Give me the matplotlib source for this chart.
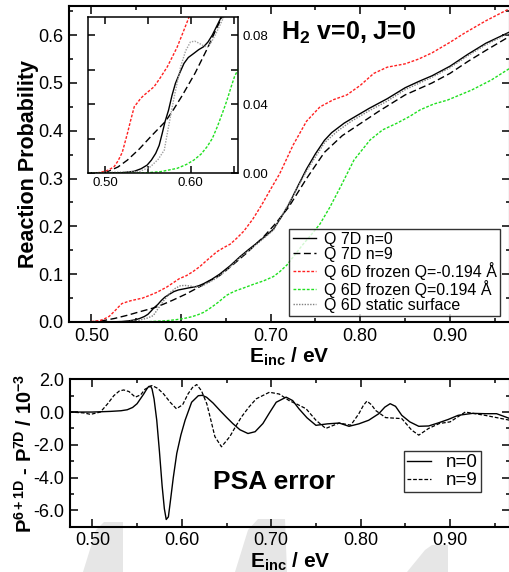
import numpy as np
import matplotlib
matplotlib.use('Agg')
import matplotlib.pyplot as plt
from matplotlib.ticker import MultipleLocator, FormatStrFormatter
from matplotlib.patches import Polygon

plt.rcParams['font.family'] = ['Liberation Sans', 'DejaVu Sans']
plt.rcParams['mathtext.fontset'] = 'custom'
plt.rcParams['mathtext.rm'] = 'Liberation Sans:bold'
plt.rcParams['mathtext.bf'] = 'Liberation Sans:bold'
plt.rcParams['mathtext.it'] = 'Liberation Sans:bold'
plt.rcParams['mathtext.sf'] = 'Liberation Sans:bold'
plt.rcParams['mathtext.default'] = 'bf'
plt.rcParams['axes.unicode_minus'] = False

# ---------------- data: reaction probability ----------------
E_n0 = [0.475, 0.50, 0.52, 0.534, 0.542, 0.549, 0.554, 0.559, 0.563, 0.5666, 0.570,
        0.574, 0.578, 0.582, 0.587, 0.592, 0.597, 0.6035, 0.609, 0.615, 0.620, 0.625,
        0.629, 0.634, 0.643, 0.655, 0.666, 0.675, 0.6845, 0.693, 0.703, 0.712, 0.72,
        0.73, 0.74, 0.75, 0.76, 0.768, 0.775, 0.782, 0.79, 0.80, 0.81, 0.83, 0.85,
        0.865, 0.88, 0.90, 0.92, 0.94, 0.967]
P_n0 = [0.0, 0.0, 0.0002, 0.001, 0.0025, 0.0046, 0.0075, 0.0114, 0.016, 0.023, 0.030,
        0.0365, 0.045, 0.052, 0.058, 0.0636, 0.067, 0.0694, 0.0715, 0.0733, 0.076, 0.080,
        0.084, 0.089, 0.100, 0.118, 0.137, 0.151, 0.165, 0.178, 0.194, 0.22, 0.245,
        0.283, 0.32, 0.352, 0.38, 0.396, 0.406, 0.416, 0.425, 0.436, 0.447, 0.467, 0.49,
        0.503, 0.515, 0.535, 0.56, 0.583, 0.607]

E_n9 = [0.475, 0.50, 0.503, 0.515, 0.526, 0.54, 0.553, 0.5705, 0.58, 0.59, 0.605,
        0.62, 0.631, 0.643, 0.658, 0.673, 0.692, 0.705, 0.72, 0.74, 0.76, 0.78, 0.80,
        0.82, 0.85, 0.88, 0.90, 0.92, 0.94, 0.967]
P_n9 = [0.0, 0.0, 0.0008, 0.0035, 0.0075, 0.014, 0.021, 0.030, 0.037, 0.045, 0.058,
        0.073, 0.085, 0.097, 0.12, 0.144, 0.178, 0.205, 0.24, 0.30, 0.355, 0.39, 0.415,
        0.44, 0.475, 0.50, 0.52, 0.545, 0.568, 0.598]

E_qm = [0.475, 0.49, 0.50, 0.505, 0.5105, 0.515, 0.52, 0.526, 0.530, 0.534, 0.538,
        0.5415, 0.545, 0.551, 0.557, 0.564, 0.5725, 0.578, 0.584, 0.588, 0.592, 0.598,
        0.606, 0.613, 0.621, 0.630, 0.640, 0.648, 0.655, 0.662, 0.67, 0.68, 0.69, 0.70,
        0.71, 0.725, 0.74, 0.755, 0.77, 0.785, 0.80, 0.815, 0.83, 0.85, 0.865, 0.88,
        0.90, 0.916, 0.94, 0.967]
P_qm = [0.0, 0.0, 0.001, 0.002, 0.0037, 0.007, 0.012, 0.023, 0.031, 0.0385, 0.041,
        0.0433, 0.045, 0.0475, 0.050, 0.055, 0.0616, 0.067, 0.073, 0.078, 0.083, 0.0906,
        0.097, 0.105, 0.116, 0.131, 0.147, 0.156, 0.163, 0.175, 0.19, 0.215, 0.245, 0.278,
        0.31, 0.37, 0.42, 0.45, 0.465, 0.475, 0.495, 0.52, 0.533, 0.54, 0.55, 0.563,
        0.585, 0.604, 0.63, 0.656]

E_qp = [0.475, 0.545, 0.565, 0.584, 0.595, 0.6035, 0.612, 0.619, 0.625, 0.631, 0.637,
        0.642, 0.647, 0.651, 0.656, 0.662, 0.671, 0.681, 0.692, 0.703, 0.71, 0.718,
        0.726, 0.735, 0.745, 0.755, 0.766, 0.778, 0.793, 0.811, 0.825, 0.841, 0.855,
        0.867, 0.882, 0.897, 0.924, 0.946, 0.967]
P_qp = [0.0, 0.0, 0.0008, 0.0027, 0.005, 0.0075, 0.011, 0.0153, 0.020, 0.027, 0.035,
        0.042, 0.050, 0.056, 0.061, 0.066, 0.072, 0.079, 0.086, 0.095, 0.105, 0.119,
        0.138, 0.16, 0.182, 0.205, 0.24, 0.283, 0.339, 0.381, 0.402, 0.416, 0.43,
        0.444, 0.456, 0.464, 0.485, 0.506, 0.531]

E_st = [0.475, 0.54, 0.553, 0.562, 0.569, 0.574, 0.5805, 0.588, 0.594, 0.5995, 0.6045,
        0.6095, 0.614, 0.619, 0.624, 0.629, 0.6385, 0.65, 0.666, 0.6845, 0.703, 0.72,
        0.74, 0.76, 0.775, 0.79, 0.81, 0.83, 0.85, 0.88, 0.90, 0.92, 0.94, 0.967]
P_st = [0.0, 0.0008, 0.0037, 0.008, 0.0133, 0.027, 0.044, 0.0616, 0.071, 0.076, 0.0765,
        0.0753, 0.074, 0.073, 0.076, 0.0806, 0.0906, 0.107, 0.135, 0.163, 0.192, 0.247,
        0.316, 0.375, 0.40, 0.42, 0.442, 0.462, 0.486, 0.512, 0.532, 0.557, 0.58, 0.605]

# ---------------- data: PSA error (units of 1e-3) ----------------
E_d0 = [0.4745, 0.50, 0.52, 0.532, 0.539, 0.545, 0.55, 0.5574, 0.561, 0.563, 0.565,
        0.5667, 0.569, 0.572, 0.575, 0.578, 0.5805, 0.5826, 0.585, 0.587, 0.5905,
        0.5944, 0.599, 0.6037, 0.611, 0.6185, 0.623, 0.6278, 0.635, 0.6426, 0.65,
        0.657, 0.665, 0.674, 0.682, 0.6907, 0.698, 0.7056, 0.7167, 0.724, 0.731, 0.74,
        0.75, 0.763, 0.776, 0.787, 0.798, 0.809, 0.8203, 0.827, 0.833, 0.839, 0.846,
        0.855, 0.865, 0.876, 0.887, 0.898, 0.909, 0.925, 0.939, 0.952, 0.967]
D_n0 = [0.0, 0.0, 0.04, 0.08, 0.14, 0.28, 0.51, 1.1, 1.42, 1.56, 1.58,
        1.42, 0.8, -0.5, -2.4, -4.5, -5.9, -6.56, -6.4, -5.55, -4.0,
        -2.52, -1.4, -0.5, 0.6, 1.0, 1.02, 0.9, 0.55, 0.1, -0.32,
        -0.7, -1.08, -1.31, -1.2, -0.7, -0.05, 0.6, 0.91, 0.7, 0.2, -0.35,
        -0.81, -0.72, -0.67, -0.87, -0.72, -0.5, -0.1, 0.3, 0.51, 0.35, -0.2,
        -0.6, -0.87, -0.85, -0.66, -0.45, -0.2, -0.08, -0.1, -0.1, -0.4]

E_d9 = [0.4745, 0.49, 0.498, 0.509, 0.517, 0.524, 0.53, 0.535, 0.541, 0.548, 0.554,
        0.559, 0.5667, 0.573, 0.5796, 0.587, 0.594, 0.601, 0.607, 0.612, 0.6167, 0.622,
        0.628, 0.633, 0.637, 0.6444, 0.6537, 0.66, 0.6667, 0.675, 0.6833, 0.698, 0.709,
        0.72, 0.73, 0.739, 0.75, 0.761, 0.776, 0.789, 0.798, 0.803, 0.807, 0.812, 0.8167,
        0.828, 0.846, 0.857, 0.865, 0.876, 0.888, 0.9, 0.917, 0.939, 0.967]
D_n9 = [0.0, -0.05, -0.14, 0.0, 0.5, 1.0, 1.28, 1.35, 1.25, 0.91, 1.05,
        1.4, 1.62, 1.45, 1.11, 0.6, 0.2, 0.45, 1.11, 1.5, 1.68, 1.3,
        0.5, -0.6, -1.5, -2.12, -1.5, -0.9, -0.3, 0.3, 0.81, 1.21, 1.1,
        0.7, 0.45, 0.2, -0.5, -1.0, -0.67, -0.8, -0.1, 0.4, 0.67, 0.45, 0.1,
        -0.34, -0.4, -1.1, -1.41, -1.0, -0.7, -0.6, 0.0, -0.2, -0.5]

labels = ['Q 7D n=0', 'Q 7D n=9', 'Q 6D frozen Q=-0.194 Å',
          'Q 6D frozen Q=0.194 Å', 'Q 6D static surface']

W, H = 509, 572
fig = plt.figure(figsize=(W / 100, H / 100), dpi=100)

# background watermark shapes (figure pixels)
shapes = [
    [(83, 572), (96, 530), (104, 522), (123, 522), (123, 572)],
    [(235, 572), (248, 530), (258, 519), (285, 519), (287, 572)],
    [(407, 572), (425, 550), (432, 545), (448, 545), (448, 572)],
]
for s in shapes:
    pts = [(x / W, 1 - y / H) for x, y in s]
    fig.patches.append(Polygon(pts, closed=True, transform=fig.transFigure,
                               facecolor='#e6e6e6', edgecolor='none', zorder=-5))


def style_axes(ax, lw=1.5, L=6, l=3, lsize=13):
    for sp in ax.spines.values():
        sp.set_linewidth(lw)
    ax.tick_params(which='both', direction='in', top=True, right=True,
                   width=1.1, labelsize=lsize, pad=4)
    ax.tick_params(which='major', length=L)
    ax.tick_params(which='minor', length=l)


def draw_curves(ax, st_color='#808080'):
    ax.plot(E_n0, P_n0, color='black', lw=1.0, label=labels[0])
    ax.plot(E_n9, P_n9, color='black', lw=1.0, dashes=(5, 2.5), label=labels[1])
    ax.plot(E_qm, P_qm, color='#ff2020', lw=1.0, dashes=(2, 1.2), label=labels[2])
    ax.plot(E_qp, P_qp, color='#20e020', lw=1.0, dashes=(2, 1.2), label=labels[3])
    ax.plot(E_st, P_st, color=st_color, lw=1.0, dashes=(1, 1), label=labels[4])


# ---------------- main panel ----------------
ax1 = fig.add_axes([69 / W, 1 - 322 / H, (510 - 69) / W, 316 / H])
ax1.set_facecolor('none')
draw_curves(ax1)
ax1.set_xlim(0.475, 0.967)
ax1.set_ylim(0.0, 0.661)
ax1.xaxis.set_major_locator(MultipleLocator(0.1))
ax1.xaxis.set_minor_locator(MultipleLocator(0.05))
ax1.yaxis.set_major_locator(MultipleLocator(0.1))
ax1.yaxis.set_minor_locator(MultipleLocator(0.05))
ax1.xaxis.set_major_formatter(FormatStrFormatter('%.2f'))
ax1.yaxis.set_major_formatter(FormatStrFormatter('%.1f'))
style_axes(ax1)
ax1.set_xlabel(r'E$_{inc}$ / eV', fontsize=15, fontweight='bold', labelpad=1)
ax1.set_ylabel('Reaction Probability', fontsize=15.5, fontweight='bold', labelpad=-0.5)
ax1.text(0.48, 0.892, r'H$_2$ v=0, J=0', transform=ax1.transAxes,
         fontsize=18, fontweight='bold', ha='left', va='baseline')
leg = ax1.legend(loc='lower right', bbox_to_anchor=(0.977, 0.019), borderaxespad=0,
                 fontsize=11.5, frameon=True, fancybox=False, handlelength=1.45,
                 handletextpad=0.5, labelspacing=0.0, borderpad=0.2)
leg.get_frame().set_edgecolor('black')
leg.get_frame().set_linewidth(1.0)

# ---------------- inset ----------------
axi = fig.add_axes([88 / W, 1 - 173 / H, 150 / W, 156 / H])
draw_curves(axi, st_color='#a0a0a0')
axi.set_xlim(0.48, 0.655)
axi.set_ylim(0.0, 0.0905)
axi.xaxis.set_major_locator(MultipleLocator(0.1))
axi.xaxis.set_minor_locator(MultipleLocator(0.05))
axi.yaxis.set_major_locator(MultipleLocator(0.04))
axi.yaxis.set_minor_locator(MultipleLocator(0.02))
axi.xaxis.set_major_formatter(FormatStrFormatter('%.2f'))
axi.yaxis.set_major_formatter(FormatStrFormatter('%.2f'))
style_axes(axi, lw=1.1, L=5, l=5, lsize=9.5)
axi.tick_params(labelleft=False, labelright=True, pad=3)

# ---------------- PSA error panel ----------------
ax2 = fig.add_axes([70 / W, 1 - 526.7 / H, (510 - 70) / W, 147.4 / H])
ax2.set_facecolor('none')
ax2.plot(E_d0, D_n0, color='black', lw=1.0, label='n=0')
ax2.plot(E_d9, D_n9, color='black', lw=0.9, dashes=(3, 1.5), label='n=9')
ax2.set_xlim(0.475, 0.967)
ax2.set_ylim(-7.0, 2.0)
ax2.xaxis.set_major_locator(MultipleLocator(0.1))
ax2.xaxis.set_minor_locator(MultipleLocator(0.05))
ax2.yaxis.set_major_locator(MultipleLocator(2.0))
ax2.yaxis.set_minor_locator(MultipleLocator(1.0))
ax2.xaxis.set_major_formatter(FormatStrFormatter('%.2f'))
ax2.yaxis.set_major_formatter(FormatStrFormatter('%.1f'))
style_axes(ax2)
ax2.set_xlabel(r'E$_{inc}$ / eV', fontsize=15, fontweight='bold', labelpad=1)
ax2.set_ylabel(r'P$^{6+1D}$ - P$^{7D}$ / 10$^{-3}$', fontsize=14.5,
               fontweight='bold', labelpad=-1.5)
ax2.text(0.325, 0.256, 'PSA error', transform=ax2.transAxes, fontsize=19,
         fontweight='bold', ha='left', va='baseline')
leg2 = ax2.legend(loc='lower right', bbox_to_anchor=(0.934, 0.235), borderaxespad=0,
                  fontsize=13.5, frameon=True, fancybox=False, handlelength=1.3,
                  handletextpad=0.8, labelspacing=0.05, borderpad=0.15)
leg2.get_frame().set_edgecolor('black')
leg2.get_frame().set_linewidth(1.0)

fig.savefig('out.png', dpi=100)
